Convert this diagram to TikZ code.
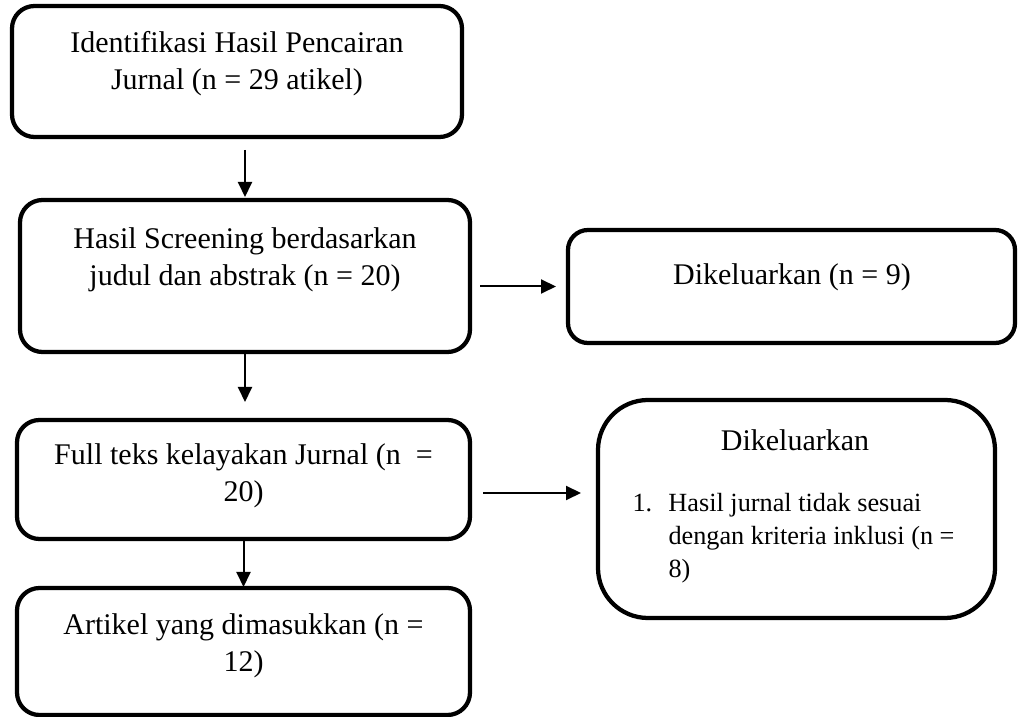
\documentclass[tikz,border=0pt]{standalone}
\usepackage{fontspec}
\setmainfont{Liberation Serif}
\usepackage{tikz}
\usetikzlibrary{arrows.meta, calc}
\tikzset{
    flowbox/.style={rectangle, rounded corners=9pt, draw=black, line width=1.7pt,
        minimum width=180pt, inner sep=0pt, outer sep=0pt},
    outbox/.style={rectangle, rounded corners=8pt, draw=black, line width=1.7pt,
        inner sep=0pt, outer sep=0pt},
    boxtext/.style={align=center, inner sep=0pt, font=\fontsize{12}{14.8}\selectfont},
    listtext/.style={align=left, inner sep=0pt, font=\fontsize{10.5}{13.2}\selectfont},
    flowarrow/.style={-{Triangle[length=6pt, width=5.6pt]}, line width=0.8pt},
}
\begin{document}
\begin{tikzpicture}[x=0.4pt, y=-0.4pt]
    \useasboundingbox (0,0) rectangle (1019,717);

    % Main column of boxes
    \node[flowbox, minimum height=52.4pt] (ident) at (237,71.5) {};
    \node[boxtext] (identtxt) at (237,63.5)
        {Identifikasi Hasil Pencairan\\Jurnal (n = 29 atikel)};

    \node[flowbox, minimum height=60.8pt] (screen) at (245,276) {};
    \node[boxtext] (screentxt) at (245,260)
        {Hasil Screening berdasarkan\\judul dan abstrak (n = 20)};

    \node[flowbox, minimum width=181.2pt, minimum height=47.6pt] (fulltext) at (243.5,479.5) {};
    \node[boxtext] (fulltxt) at (243.5,476)
        {Full teks kelayakan Jurnal (n \ =\\20)};

    \node[flowbox, minimum width=181.2pt, minimum height=50.8pt] (included) at (243.5,651.5) {};
    \node[boxtext] (inctxt) at (243.5,646)
        {Artikel yang dimasukkan (n =\\12)};

    % Excluded boxes on the right
    \node[outbox, minimum width=178.8pt, minimum height=45.2pt] (excl1) at (791.5,286.5) {};
    \node[boxtext] (excl1txt) at (792,277) {Dikeluarkan (n = 9)};

    \node[outbox, rounded corners=20pt, minimum width=158.8pt, minimum height=87.2pt]
        (excl2) at (796.5,509) {};
    \node[boxtext] (excl2head) at (795,440) {Dikeluarkan};
    \node[listtext, anchor=west] (excl2list) at (632,538.5)
        {\makebox[14.4pt][l]{1.}Hasil jurnal tidak sesuai\\
         \hspace*{14.4pt}dengan kriteria inklusi (n =\\
         \hspace*{14.4pt}8)};

    % Arrows
    \draw[flowarrow, shorten <=5.2pt, shorten >=1.2pt] (ident.south -| screen.north) -- (screen.north);
    \draw[flowarrow, shorten >=7.2pt] (screen.south) -- (screen.south |- fulltext.north);
    \draw[flowarrow, shorten >=0.4pt] (fulltext.south) -- (fulltext.south |- included.north);
    \draw[flowarrow, shorten <=4pt, shorten >=4.8pt] (screen.east |- excl1.west) -- (excl1.west);
    \draw[flowarrow, shorten <=5.2pt, shorten >=6.8pt]
        ([yshift=-5.4pt]fulltext.east) -- ([yshift=-5.4pt]fulltext.east -| excl2.west);
\end{tikzpicture}
\end{document}
